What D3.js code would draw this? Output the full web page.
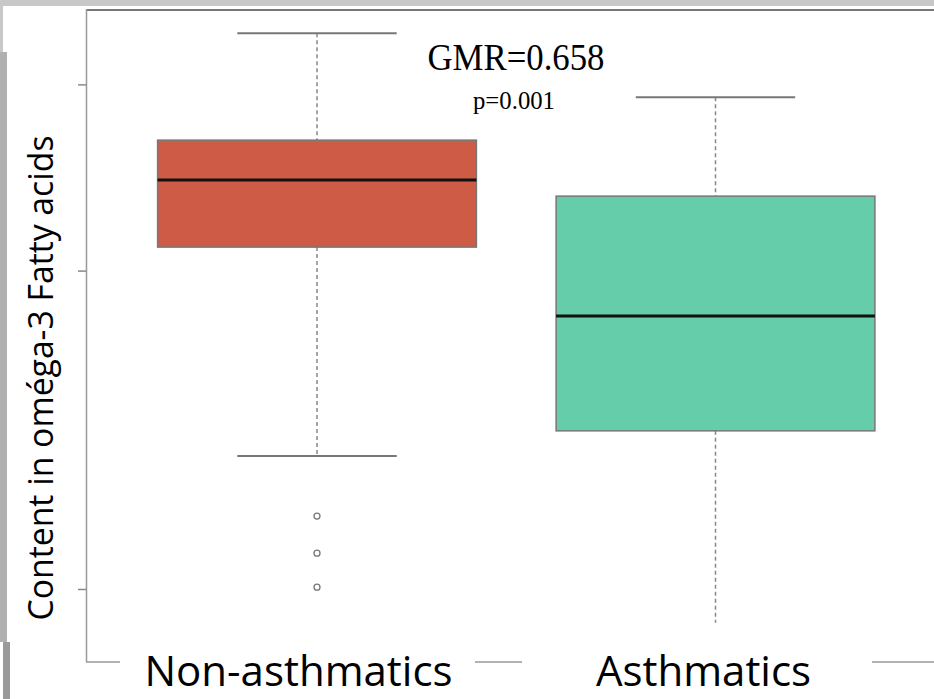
<!DOCTYPE html>
<html>
<head>
<meta charset="utf-8">
<script src="https://cdn.jsdelivr.net/npm/d3@7"></script>
<style>
  html, body { margin: 0; padding: 0; background: #fff; }
  svg { display: block; }
</style>
</head>
<body>
<svg id="chart" width="934" height="699"></svg>
<script>
// groups and five-number summaries (log scale)
const groups = ['Non-asthmatics', 'Asthmatics'];
const whiskerHigh = [3.354, 2.917];
const q3 = [2.657, 2.352];
const median = [2.436, 1.812];
const q1 = [2.105, 1.411];
const whiskerLow = [1.336, 0.929];
const outliers = [[1.172, 1.081, 1.004], []];
const lowCap = [true, false];
const fills = ['#CD5B45', '#66CDAA'];
const yTicks = [1, 2, 3];

const svg = d3.select('#chart');
const W = 934, H = 699;
const margin = { left: 86, top: 9, bottom: 662 };

// screenshot edges
svg.append('rect').attr('x', 0).attr('y', 0).attr('width', W).attr('height', 6).attr('fill', '#c8c8c8');
svg.append('rect').attr('x', 0).attr('y', 0).attr('width', 3).attr('height', 52).attr('fill', '#c8c8c8');
svg.append('rect').attr('x', 0).attr('y', 52).attr('width', 7).attr('height', 590).attr('fill', '#b0b0b0');
svg.append('rect').attr('x', 3).attr('y', 642).attr('width', 7).attr('height', 57).attr('fill', '#9a9a9a');

const y = d3.scaleLog().domain([0.853, 3.535]).range([margin.bottom, margin.top]);
const x = d3.scalePoint().domain(groups).range([317, 715.5]);
const step = x(groups[1]) - x(groups[0]);
const boxW = step * 0.8;
const capW = boxW / 2;

// frame
svg.append('line').attr('x1', margin.left).attr('x2', W).attr('y1', 10).attr('y2', 10)
  .attr('stroke', '#777').attr('stroke-width', 2);
svg.append('line').attr('x1', margin.left + 0.5).attr('x2', margin.left + 0.5).attr('y1', 9).attr('y2', margin.bottom)
  .attr('stroke', '#999').attr('stroke-width', 1.5);
svg.append('line').attr('x1', margin.left).attr('x2', W).attr('y1', margin.bottom).attr('y2', margin.bottom)
  .attr('stroke', '#999').attr('stroke-width', 1.5);

const yAxis = svg.append('g')
  .attr('transform', `translate(${margin.left},0)`)
  .call(d3.axisLeft(y).tickValues(yTicks).tickFormat('').tickSize(8));
yAxis.select('.domain').remove();
yAxis.selectAll('line').attr('stroke', '#888').attr('stroke-width', 1.5);

const g = svg.append('g');
groups.forEach((grp, i) => {
  const cx = x(grp);
  // whiskers
  g.append('line').attr('x1', cx).attr('x2', cx).attr('y1', y(whiskerHigh[i])).attr('y2', y(q3[i]))
    .attr('stroke', '#888').attr('stroke-width', 1.5).attr('stroke-dasharray', '4,3');
  g.append('line').attr('x1', cx).attr('x2', cx).attr('y1', y(q1[i])).attr('y2', y(whiskerLow[i]))
    .attr('stroke', '#888').attr('stroke-width', 1.5).attr('stroke-dasharray', '4,3');
  g.append('line').attr('x1', cx - capW / 2).attr('x2', cx + capW / 2)
    .attr('y1', y(whiskerHigh[i])).attr('y2', y(whiskerHigh[i]))
    .attr('stroke', '#777').attr('stroke-width', 2);
  if (lowCap[i]) {
    g.append('line').attr('x1', cx - capW / 2).attr('x2', cx + capW / 2)
      .attr('y1', y(whiskerLow[i])).attr('y2', y(whiskerLow[i]))
      .attr('stroke', '#777').attr('stroke-width', 2);
  }
  // box
  g.append('rect').attr('x', cx - boxW / 2).attr('width', boxW)
    .attr('y', y(q3[i])).attr('height', y(q1[i]) - y(q3[i]))
    .attr('fill', fills[i]).attr('stroke', '#777').attr('stroke-width', 1.5);
  g.append('line').attr('x1', cx - boxW / 2).attr('x2', cx + boxW / 2)
    .attr('y1', y(median[i])).attr('y2', y(median[i]))
    .attr('stroke', '#111').attr('stroke-width', 3);
  // outliers
  g.selectAll(null).data(outliers[i]).enter().append('circle')
    .attr('cx', cx).attr('cy', d => y(d)).attr('r', 3)
    .attr('fill', 'none').attr('stroke', '#777').attr('stroke-width', 1.3);
});

// annotation
svg.append('text').attr('x', 516).attr('y', 70).attr('text-anchor', 'middle')
  .style('font-family', '"Liberation Serif", "DejaVu Serif", serif').style('font-size', '37px')
  .attr('textLength', 177).attr('lengthAdjust', 'spacingAndGlyphs')
  .text('GMR=0.658');
svg.append('text').attr('x', 514).attr('y', 109).attr('text-anchor', 'middle')
  .style('font-family', '"Liberation Serif", "DejaVu Serif", serif').style('font-size', '25px')
  .attr('textLength', 82).attr('lengthAdjust', 'spacingAndGlyphs')
  .text('p=0.001');

// y title
svg.append('text').attr('transform', 'translate(53,378) rotate(-90)').attr('text-anchor', 'middle')
  .style('font-family', '"Open Sans", sans-serif').style('font-size', '34px').attr('fill', '#000')
  .attr('textLength', 485).attr('lengthAdjust', 'spacingAndGlyphs')
  .text('Content in oméga-3 Fatty acids');

// x labels, with white boxes covering the bottom line
const labelX = [298.5, 703.5];
const labelGap = [[120, 475], [522, 872]];
groups.forEach((grp, i) => {
  svg.append('rect').attr('x', labelGap[i][0]).attr('width', labelGap[i][1] - labelGap[i][0])
    .attr('y', 640).attr('height', 50).attr('fill', '#fff');
  svg.append('text').attr('x', labelX[i]).attr('y', 686).attr('text-anchor', 'middle')
    .style('font-family', '"Open Sans", sans-serif').style('font-size', '42px').attr('fill', '#000')
    .text(grp);
});
</script>
</body>
</html>
